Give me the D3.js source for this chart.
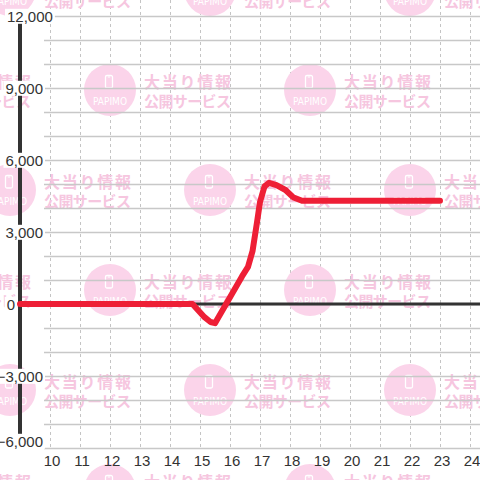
<!DOCTYPE html>
<html>
<head>
<meta charset="utf-8">
<script src="https://cdn.jsdelivr.net/npm/d3@7"></script>
<style>
  html, body { margin: 0; padding: 0; background: #ffffff; }
  svg { display: block; }
</style>
</head>
<body>
<svg id="chart" width="480" height="480"></svg>
<script>
// ---- data ----
const xTicks = [10, 11, 12, 13, 14, 15, 16, 17, 18, 19, 20, 21, 22, 23, 24];
const yTicks = [-6000, -3000, 0, 3000, 6000, 9000, 12000];
const gridStep = 1000;
const slumpX = [9, 14.75, 15.15, 15.35, 15.5, 16.4, 16.6, 16.75, 16.9, 17.0, 17.15, 17.3, 17.55, 17.85, 18.1, 18.4, 23];
const slumpY = [0, 0, -550, -750, -800, 1150, 1550, 2200, 3400, 4250, 4900, 5050, 4950, 4750, 4450, 4300, 4300];
const wmLine1 = "大当り情報";
const wmLine2 = "公開サービス";
const wmBrand = "PAPIMO";

// ---- setup ----
const W = 480, H = 480;
const svg = d3.select("#chart");
const x = d3.scaleLinear().domain([9, 24]).range([20, 470]);
const y = d3.scaleLinear().domain([-6000, 12000]).range([448, 16]);
const FONT = "'Liberation Sans', Arial, sans-serif";
const yMin = yTicks[0], yMax = yTicks[yTicks.length - 1];

svg.append("rect").attr("width", W).attr("height", H).attr("fill", "#ffffff");

// vertical dashed grid
svg.append("g").selectAll("line").data(xTicks).join("line")
  .attr("x1", d => x(d) + 0.5).attr("x2", d => x(d) + 0.5)
  .attr("y1", 0).attr("y2", y(yMin))
  .attr("stroke", "#c4c4c4").attr("stroke-width", 1)
  .attr("stroke-dasharray", "3,3");

// watermark pattern
const wm = svg.append("g");
d3.range(0, 6).forEach(r => {
  const cy = -10 + r * 100;
  const off = (r % 2 === 0) ? 10 : 110;
  d3.range(-1, 3).forEach(c => {
    const cx = off + c * 200;
    const g = wm.append("g").attr("transform", `translate(${cx},${cy})`);
    g.append("circle").attr("r", 26).attr("fill", "#fbd4ea");
    g.append("rect").attr("x", -4.5).attr("y", -14.5).attr("width", 7).attr("height", 12.5)
      .attr("rx", 1.5).attr("fill", "none").attr("stroke", "#ffffff").attr("stroke-width", 1.3);
    g.append("line").attr("x1", -2.2).attr("x2", 0.2).attr("y1", -13).attr("y2", -13)
      .attr("stroke", "#ffffff").attr("stroke-width", 1);
    g.append("text").attr("x", 0).attr("y", 14.5).attr("text-anchor", "middle")
      .attr("font-family", "'DejaVu Sans', sans-serif").attr("font-size", 11)
      .attr("textLength", 34).attr("lengthAdjust", "spacingAndGlyphs")
      .attr("fill", "#ffffff").text(wmBrand);
    g.append("text").attr("x", 34).attr("y", -2)
      .attr("font-family", "'Noto Sans CJK JP', sans-serif").attr("font-weight", "bold").attr("font-size", 16)
      .attr("textLength", 87).attr("lengthAdjust", "spacing")
      .attr("fill", "#f6c6df").text(wmLine1);
    g.append("text").attr("x", 34).attr("y", 17)
      .attr("font-family", "'Noto Sans CJK JP', sans-serif").attr("font-weight", "bold").attr("font-size", 15)
      .attr("textLength", 87).attr("lengthAdjust", "spacing")
      .attr("fill", "#f6c6df").text(wmLine2);
  });
});

// horizontal grid
const gridVals = d3.range(yMin, yMax + 1, gridStep);
svg.append("g").selectAll("line").data(gridVals).join("line")
  .attr("x1", 44).attr("x2", W)
  .attr("y1", d => Math.round(y(d)) + 0.5).attr("y2", d => Math.round(y(d)) + 0.5)
  .attr("stroke", "#c8c8c8").attr("stroke-width", 1.3);

// zero line
svg.append("line").attr("x1", x(9)).attr("x2", W)
  .attr("y1", y(0)).attr("y2", y(0))
  .attr("stroke", "#333333").attr("stroke-width", 3);

// y axis bar
svg.append("line").attr("x1", x(9)).attr("x2", x(9))
  .attr("y1", y(yMax)).attr("y2", y(yMin))
  .attr("stroke", "#333333").attr("stroke-width", 4);

// slump line
const pts = slumpX.map((d, i) => [d, slumpY[i]]);
svg.append("path").datum(pts)
  .attr("d", d3.line().x(d => x(d[0])).y(d => y(d[1])))
  .attr("fill", "none").attr("stroke", "#ee1f36").attr("stroke-width", 6)
  .attr("stroke-linejoin", "round").attr("stroke-linecap", "round");

// y axis labels
const yAxis = svg.append("g").attr("transform", "translate(43,0)")
  .call(d3.axisLeft(y).tickValues(yTicks).tickFormat(d3.format(",")).tickSize(0).tickPadding(0));
yAxis.select(".domain").remove();
yAxis.selectAll("text")
  .attr("font-family", FONT).attr("font-size", 15).attr("fill", "#333333")
  .attr("x", d => d === 0 ? -28 : (d === yMax ? -36 : 0))
  .attr("y", d => d === yMin ? -6.5 : 0.5)
  .attr("text-anchor", d => d === yMax ? "start" : "end");
yAxis.selectAll(".tick").each(function () {
  const t = d3.select(this).select("text");
  const bb = t.node().getBBox();
  d3.select(this).insert("rect", "text")
    .attr("x", bb.x - 2).attr("y", bb.y + 1).attr("width", bb.width + 4).attr("height", bb.height - 2)
    .attr("fill", "#ffffff");
});

// x axis labels
const xAxis = svg.append("g").attr("transform", `translate(0,${y(yMin)})`)
  .call(d3.axisBottom(x).tickValues(xTicks).tickSize(0).tickPadding(0));
xAxis.select(".domain").remove();
xAxis.selectAll("text")
  .attr("font-family", FONT).attr("font-size", 15).attr("fill", "#333333")
  .attr("y", 18).attr("dy", null).attr("dx", 1.5);
</script>
</body>
</html>
